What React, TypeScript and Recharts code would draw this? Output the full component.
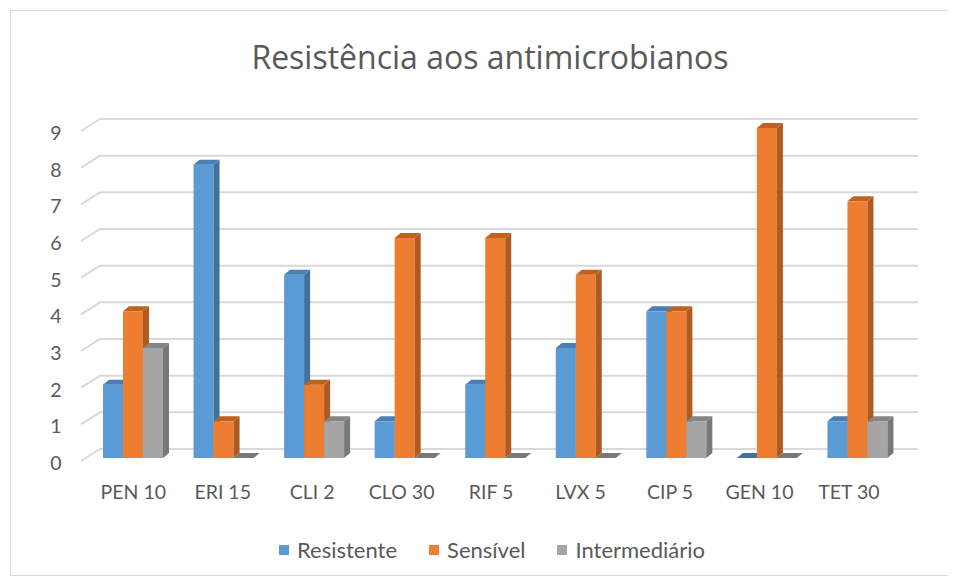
import { Bar, BarChart, CartesianGrid, Legend, XAxis, YAxis } from 'recharts';

const categories = ['PEN 10', 'ERI 15', 'CLI 2', 'CLO 30', 'RIF 5', 'LVX 5', 'CIP 5', 'GEN 10', 'TET 30'];
const resistente = [2, 8, 5, 1, 2, 3, 4, 0, 1];
const sensivel = [4, 1, 2, 6, 6, 5, 4, 9, 7];
const intermediario = [3, 0, 1, 0, 0, 0, 1, 0, 1];
const yTicks = [0, 1, 2, 3, 4, 5, 6, 7, 8, 9];

const data = categories.map((name, i) => ({
  name,
  resistente: resistente[i],
  sensivel: sensivel[i],
  intermediario: intermediario[i]
}));

const series = [
  { key: 'resistente', name: 'Resistente', front: '#5B9BD5', side: '#41719C', top: '#4A7FB3' },
  { key: 'sensivel', name: 'Sensível', front: '#ED7D31', side: '#AE5A21', top: '#C0621F' },
  { key: 'intermediario', name: 'Intermediário', front: '#A5A5A5', side: '#787878', top: '#858585' }
];

const FONT = 'Lato, "Open Sans", sans-serif';
const DX = 6;
const DY = 5;

// barra "3D" simples: frente + lateral + topo
function makeShape(front: string, side: string, top: string) {
  return (props: any) => {
    const { x, y, width, height } = props;
    const w = width;
    const h = Math.max(height || 0, 0);
    if (!w && w !== 0) return <g />;
    const topFace = `M${x},${y} L${x + DX},${y - DY} L${x + w + DX},${y - DY} L${x + w},${y} Z`;
    if (h < 0.5) {
      return <path d={topFace} fill={side} />;
    }
    const sideFace = `M${x + w},${y} L${x + w + DX},${y - DY} L${x + w + DX},${y + h - DY} L${x + w},${y + h} Z`;
    return (
      <g>
        <rect x={x} y={y} width={w} height={h} fill={front} />
        <path d={sideFace} fill={side} />
        <path d={topFace} fill={top} />
      </g>
    );
  };
}

const gridLine = (props: any) => {
  const { x1, y1, x2, key } = props;
  return (
    <path
      key={key}
      d={`M${x1 - 7},${y1 + 3} L${x1 + 12},${y1 - 9} L${x2 + 15},${y1 - 9}`}
      stroke="#d9d9d9"
      strokeWidth={2}
      fill="none"
    />
  );
};

const YTick = (props: any) => {
  const { x, y, payload } = props;
  return (
    <text x={x - 24} y={y} dy={12} textAnchor="middle" fill="#595959" fontSize={19.5} fontFamily={FONT}>
      {payload.value}
    </text>
  );
};

const XTick = (props: any) => {
  const { x, y, payload, index } = props;
  return (
    <text x={x - (index || 0) * 1.1} y={y} dy={33} textAnchor="middle" fill="#595959" fontSize={19.5} fontFamily={FONT}>
      {payload.value}
    </text>
  );
};

const LegendContent = () => (
  <div
    style={{
      display: 'flex',
      justifyContent: 'center',
      gap: 32,
      paddingTop: 3,
      paddingLeft: 70,
      fontFamily: FONT,
      fontSize: 22,
      color: '#595959'
    }}
  >
    {series.map((s) => (
      <span key={s.key} style={{ display: 'flex', alignItems: 'center', gap: 8 }}>
        <span style={{ width: 10, height: 10, background: s.front, display: 'inline-block' }} />
        {s.name}
      </span>
    ))}
  </div>
);

export default function App() {
  return (
    <div
      style={{
        position: 'relative',
        width: 940,
        height: 566,
        marginLeft: 2,
        marginTop: 2,
        border: '1px solid #d9d9d9',
        boxSizing: 'border-box',
        background: '#fff'
      }}
    >
      <div
        style={{
          position: 'absolute',
          top: 24,
          left: 0,
          width: 958,
          textAlign: 'center',
          fontFamily: '"Open Sans", sans-serif',
          fontSize: 32,
          color: '#595959'
        }}
      >
        Resistência aos antimicrobianos
      </div>
      <BarChart
        width={938}
        height={564}
        data={data}
        barSize={20}
        barGap={0}
        margin={{ top: 117, right: 46, bottom: 0, left: 0 }}
      >
        <CartesianGrid vertical={false} horizontal={gridLine} />
        <XAxis dataKey="name" axisLine={false} tickLine={false} tick={<XTick />} height={75} interval={0} />
        <YAxis
          domain={[0, 9]}
          ticks={yTicks}
          axisLine={false}
          tickLine={false}
          tick={<YTick />}
          width={77}
          interval={0}
        />
        <Legend verticalAlign="bottom" height={42} content={<LegendContent />} />
        {series.map((s) => (
          <Bar
            key={s.key}
            dataKey={s.key}
            name={s.name}
            fill={s.front}
            isAnimationActive={false}
            shape={makeShape(s.front, s.side, s.top)}
          />
        ))}
      </BarChart>
    </div>
  );
}
